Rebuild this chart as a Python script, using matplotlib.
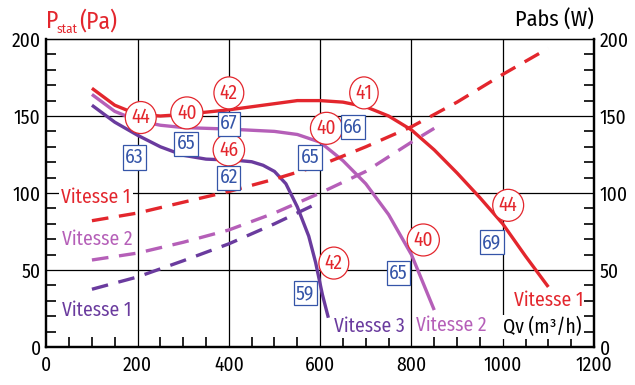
import matplotlib
matplotlib.use("Agg")
import matplotlib.pyplot as plt
from matplotlib import font_manager

fams = {f.name for f in font_manager.fontManager.ttflist}
prefs = ['Myriad Pro', 'Fira Sans Condensed', 'PT Sans Narrow', 'Roboto Condensed',
         'Open Sans Condensed', 'Archivo Narrow', 'Liberation Sans Narrow',
         'Asap Condensed', 'Encode Sans Condensed', 'Barlow Semi Condensed']
FONT = next((f for f in prefs if f in fams), 'DejaVu Sans')
plt.rcParams['font.family'] = [FONT, 'DejaVu Sans']

RED = '#e3262d'
PINK = '#b55fb8'
PURPLE = '#6a3b9e'
BLUE = '#3555a8'

# Pressure curves (Pa) vs flow (m3/h)
q_v1 = [100, 150, 200, 250, 300, 400, 500, 550, 600, 650, 700, 750, 800, 850, 900, 950, 1000, 1050, 1100]
p_v1 = [168, 157, 151, 150, 151, 154, 158, 160, 160, 159, 156, 150, 141, 128, 113, 97, 80, 59, 39]
q_v2 = [100, 150, 200, 250, 300, 400, 500, 550, 600, 650, 700, 750, 800, 850]
p_v2 = [164, 153, 147, 144, 142.5, 141.5, 140, 138, 133, 121, 106, 86, 60, 24]
q_v3 = [100, 150, 200, 250, 300, 350, 400, 425, 450, 475, 500, 525, 550, 575, 590, 605, 618]
p_v3 = [157, 146, 137.5, 130, 124.5, 122, 121.4, 121, 120.3, 118, 114, 106, 91, 72, 55, 34, 19]

# Absorbed power curves (W)
qp_v1 = [100, 200, 300, 400, 500, 600, 700, 800, 900, 1000, 1100]
w_v1 = [82, 87, 94, 101, 109, 118, 130, 143, 159, 177, 194]
qp_v2 = [100, 200, 300, 400, 500, 600, 700, 800, 850]
w_v2 = [56.5, 61, 68, 76, 87, 100, 114, 133, 142]
qp_v3 = [100, 200, 300, 400, 500, 585]
w_v3 = [37.5, 45.5, 56, 67, 80, 92]

# Sound level annotations
circ_text = ['44', '40', '42', '46', '40', '41', '44', '40', '42']
circ_x = [207, 308, 400, 400, 614, 696, 1012, 826, 630]
circ_y = [149, 152, 165, 128, 142, 165, 92, 69.5, 54.5]
box_text = ['67', '65', '63', '62', '66', '65', '69', '65', '59']
box_x = [400, 306, 193, 400, 672, 578, 976, 771, 567]
box_y = [145, 132, 123, 110, 143, 123, 68, 48, 35]

x_ticks = [0, 200, 400, 600, 800, 1000, 1200]
y_ticks = [0, 50, 100, 150, 200]

fig = plt.figure(figsize=(6.35, 3.85), dpi=100)
ax = fig.add_axes([0.0729, 0.0987, 0.8625, 0.80])
ax.set_xlim(0, 1200)
ax.set_ylim(0, 200)

for x in x_ticks[1:-1]:
    ax.axvline(x, color='black', lw=0.9, zorder=1)
for y in y_ticks[1:-1]:
    ax.axhline(y, color='black', lw=0.9, zorder=1)

lw = 2.4
ax.plot(q_v1, p_v1, color=RED, lw=lw, zorder=3, solid_capstyle='butt')
ax.plot(q_v2, p_v2, color=PINK, lw=lw, zorder=3, solid_capstyle='butt')
ax.plot(q_v3, p_v3, color=PURPLE, lw=lw, zorder=3, solid_capstyle='butt')
dash = (0, (5, 3.2))
ax.plot(qp_v1, w_v1, color=RED, lw=lw, ls=dash, zorder=3)
ax.plot(qp_v2, w_v2, color=PINK, lw=lw, ls=dash, zorder=3)
ax.plot(qp_v3, w_v3, color=PURPLE, lw=lw, ls=dash, zorder=3)

FS = 14
for t, x, y in zip(circ_text, circ_x, circ_y):
    ax.text(x, y, t, color=RED, fontsize=FS, ha='center', va='center', zorder=5,
            bbox=dict(boxstyle='ellipse,pad=0.08', fc='white', ec=RED, lw=0.9))
for t, x, y in zip(box_text, box_x, box_y):
    ax.text(x, y, t, color=BLUE, fontsize=FS, ha='center', va='center', zorder=5,
            bbox=dict(boxstyle='square,pad=0.12', fc='white', ec=BLUE, lw=0.9))

wb = dict(boxstyle='square,pad=0.1', fc='white', ec='none')
ax.text(109, 97, 'Vitesse 1', color=RED, fontsize=FS, ha='center', va='center', zorder=4, bbox=wb)
ax.text(111, 70, 'Vitesse 2', color=PINK, fontsize=FS, ha='center', va='center', zorder=4, bbox=wb)
ax.text(111, 24, 'Vitesse 1', color=PURPLE, fontsize=FS, ha='center', va='center', zorder=4, bbox=wb)
ax.text(707, 13.6, 'Vitesse 3', color=PURPLE, fontsize=FS, ha='center', va='center', zorder=4, bbox=wb)
ax.text(888, 14, 'Vitesse 2', color=PINK, fontsize=FS, ha='center', va='center', zorder=4, bbox=wb)
ax.text(1100, 30.5, 'Vitesse 1', color=RED, fontsize=FS, ha='center', va='center', zorder=4, bbox=wb)
ax.text(1087, 13, 'Qv (m³/h)', color='black', fontsize=FS, ha='center', va='center', zorder=4, bbox=wb)

fig.text(0.073, 0.927, 'P', color=RED, fontsize=17, ha='left', va='baseline')
fig.text(0.0895, 0.914, 'stat', color=RED, fontsize=9.5, ha='left', va='baseline')
fig.text(0.124, 0.927, '(Pa)', color=RED, fontsize=17, ha='left', va='baseline')
fig.text(0.935, 0.93, 'Pabs (W)', color='black', fontsize=16, ha='right', va='baseline')

ax.set_xticks(x_ticks)
ax.set_yticks(y_ticks)
ax.set_xticks(range(0, 1201, 50), minor=True)
ax.set_yticks(range(0, 201, 10), minor=True)
ax.tick_params(axis='both', which='major', direction='in', length=0, labelsize=FS, pad=4)
ax.tick_params(axis='both', which='minor', direction='in', length=7, width=1.2)
ax.tick_params(axis='x', which='major', pad=6)

ax2 = ax.twinx()
ax2.set_ylim(0, 200)
ax2.set_yticks(y_ticks)
ax2.set_yticks(range(0, 201, 10), minor=True)
ax2.tick_params(axis='y', which='major', direction='in', length=0, labelsize=FS, pad=4)
ax2.tick_params(axis='y', which='minor', direction='in', length=7, width=1.2)

for a in (ax, ax2):
    for s in a.spines.values():
        s.set_linewidth(1.6)
    a.spines['top'].set_linewidth(0.9)

fig.savefig('out.png', dpi=100)
